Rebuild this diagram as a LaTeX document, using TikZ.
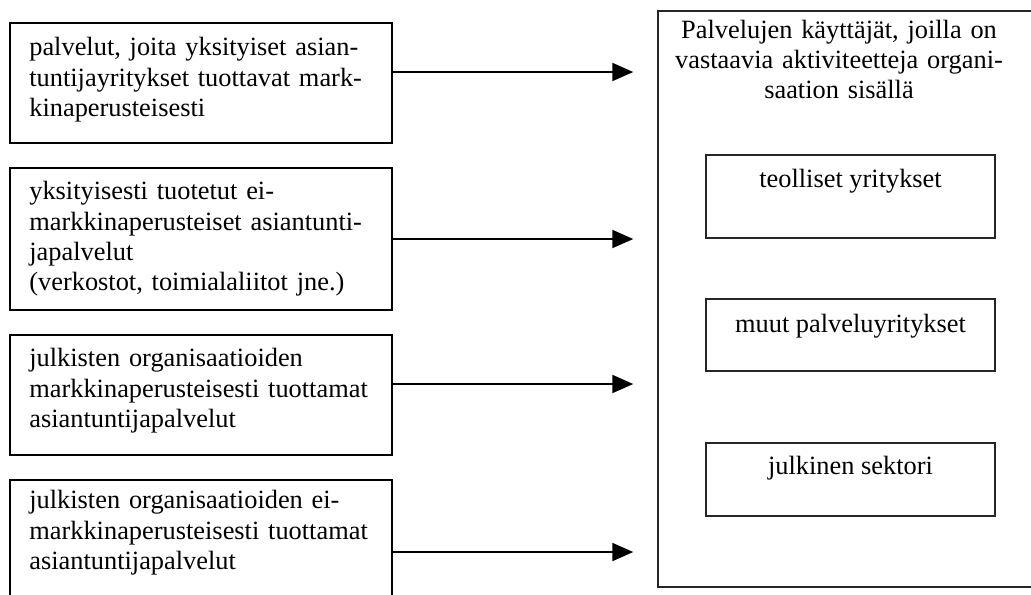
\documentclass[tikz,border=0pt]{standalone}
\usepackage{fontspec}
\setmainfont{Liberation Serif}
\usetikzlibrary{arrows.meta,fit,calc}
\begin{document}
\begin{tikzpicture}[x=0.4549pt,y=-0.4549pt,
  font=\fontsize{12}{13.8}\selectfont,
  srcbox/.style={draw=black,line width=1pt,inner sep=0pt},
  userbox/.style={draw=black!85,line width=0.75pt,inner sep=0pt},
  srctext/.style={anchor=base west,inner sep=0pt,text width=165pt,align=left},
  titletext/.style={anchor=base,inner sep=0pt,text width=170pt,align=center},
  grouptext/.style={anchor=base,inner sep=0pt},
  flow/.style={line width=0.8pt,-{Triangle[length=9.5pt,width=8.2pt]},shorten >=10.9pt}
]
\useasboundingbox (0,0) rectangle (1031,594);
\clip (0,0) rectangle (1031,594);

% service producers (left column)
\node[srcbox,fit={(10,23) (392,143)}] (s1) {};
\node[srcbox,fit={(10,168) (392,310)}] (s2) {};
\node[srcbox,fit={(10,335) (392,455)}] (s3) {};
\node[srcbox,fit={(10,480) (392,630)}] (s4) {};

\node[srctext] (t1) at ($(s1.north west)+(20,34)$)
  {palvelut, joita yksityiset asian-\\tuntijayritykset tuottavat mark-\\kinaperusteisesti};
\node[srctext] (t2) at ($(s2.north west)+(20,33)$)
  {yksityisesti tuotetut ei-\\markkinaperusteiset asiantunti-\\japalvelut\\(verkostot, toimialaliitot jne.)};
\node[srctext] (t3) at ($(s3.north west)+(20,33)$)
  {julkisten organisaatioiden\\markkinaperusteisesti tuottamat\\asiantuntijapalvelut};
\node[srctext] (t4) at ($(s4.north west)+(20,30)$)
  {julkisten organisaatioiden ei-\\markkinaperusteisesti tuottamat\\asiantuntijapalvelut};

% service users (right column)
\node[userbox,fit={(658,11) (1040,587)}] (u) {};
\node[titletext] (ut) at ($(u.north)+(-10,28)$)
  {Palvelujen käyttäjät, joilla on\\vastaavia aktiviteetteja organi-\\saation sisällä};

\node[userbox,fit={(706,155) (995,238)}] (g1) {};
\node[userbox,fit={(706,299) (995,371)}] (g2) {};
\node[userbox,fit={(706,443) (995,516)}] (g3) {};
\node[grouptext] (gt1) at ($(g1.north)+(0,33)$) {teolliset yritykset};
\node[grouptext] (gt2) at ($(g2.north)+(0,34)$) {muut palveluyritykset};
\node[grouptext] (gt3) at ($(g3.north)+(0,32)$) {julkinen sektori};

% flows into the user box
\draw[flow] (s1.east |- 0,72)  -- (u.west |- 0,72);
\draw[flow] (s2.east |- 0,239) -- (u.west |- 0,239);
\draw[flow] (s3.east |- 0,384) -- (u.west |- 0,384);
\draw[flow] (s4.east |- 0,552) -- (u.west |- 0,552);
\end{tikzpicture}
\end{document}
